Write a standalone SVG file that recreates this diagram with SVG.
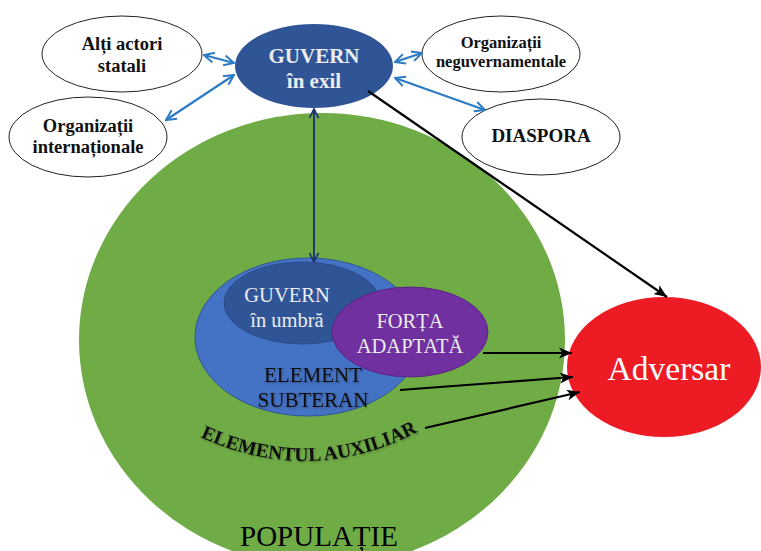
<svg xmlns="http://www.w3.org/2000/svg" width="761" height="551" viewBox="0 0 761 551">
<style>
.t{font-family:"Liberation Serif","Times New Roman",serif;text-anchor:middle}
.wb{fill:#fff;stroke:#222;stroke-width:1}
.lbl{font-weight:bold;fill:#111}
.blue{stroke:#2b7cc4;stroke-width:2.2;fill:none;marker-start:url(#bh);marker-end:url(#bh)}
.blk{stroke:#000;stroke-width:2.2;fill:none;marker-end:url(#ah)}
.lt{fill:#ececec}
</style>
<defs>
<marker id="bh" viewBox="0 0 12 12" refX="11" refY="6" markerWidth="12" markerHeight="12" markerUnits="userSpaceOnUse" orient="auto-start-reverse">
<path d="M1,1 L11,6 L1,11" fill="none" stroke="#2b7cc4" stroke-width="2"/>
</marker>
<marker id="nh" viewBox="0 0 12 12" refX="11" refY="6" markerWidth="11" markerHeight="11" markerUnits="userSpaceOnUse" orient="auto-start-reverse">
<path d="M1,1 L11,6 L1,11" fill="none" stroke="#1f3a6e" stroke-width="2"/>
</marker>
<marker id="ah" viewBox="0 0 12 12" refX="12" refY="6" markerWidth="13" markerHeight="13" markerUnits="userSpaceOnUse" orient="auto">
<path d="M0,1 L12,6 L0,11 L3,6 Z" fill="#000"/>
</marker>
<filter id="sh" x="-10%" y="-20%" width="120%" height="150%">
<feDropShadow dx="1" dy="1.2" stdDeviation="0.8" flood-color="#000" flood-opacity="0.3"/>
</filter>
<path id="arc" d="M188,431 Q311,494 430,425"/>
</defs>

<g id="populatie">
<ellipse cx="322" cy="340" rx="243" ry="227" fill="#6fac46"/>
<text class="t" x="319" y="546" font-size="29" fill="#000">POPULAȚIE</text>
</g>

<g id="element-subteran">
<ellipse cx="308" cy="337" rx="113" ry="79" fill="#4472c4" stroke="#2f5597" stroke-width="1"/>
<text class="t" x="313" y="382" font-size="21" fill="#111" filter="url(#sh)">ELEMENT</text>
<text class="t" x="313" y="407" font-size="21" fill="#111" filter="url(#sh)">SUBTERAN</text>
</g>

<g id="guvern-umbra">
<ellipse cx="302" cy="303" rx="78" ry="41" fill="#2f5597" stroke="#2a4c8a" stroke-width="1"/>
<text class="t lt" x="287" y="302" font-size="20.5">GUVERN</text>
<text class="t lt" x="287" y="327" font-size="20.5">în umbră</text>
</g>

<g id="forta-adaptata">
<ellipse cx="410" cy="332" rx="78" ry="45" fill="#7030a0" stroke="#5a2484" stroke-width="1"/>
<text class="t lt" x="410" y="328" font-size="20.5">FORȚA</text>
<text class="t lt" x="410" y="353" font-size="20.5">ADAPTATĂ</text>
</g>

<g id="elementul-auxiliar">
<text class="t" font-size="19.5" font-weight="bold" fill="#111" filter="url(#sh)"><textPath href="#arc" startOffset="50%">ELEMENTUL AUXILIAR</textPath></text>
</g>

<g id="guvern-exil">
<ellipse cx="314" cy="66" rx="79" ry="42" fill="#2f5597"/>
<text class="t lt" x="314" y="63" font-size="21" font-weight="bold">GUVERN</text>
<text class="t lt" x="314" y="88" font-size="21" font-weight="bold">în exil</text>
</g>

<g id="alti-actori">
<ellipse class="wb" cx="122" cy="54" rx="80" ry="38"/>
<text class="t lbl" x="122" y="50" font-size="18.5">Alți actori</text>
<text class="t lbl" x="122" y="72" font-size="18.5">statali</text>
</g>

<g id="org-internationale">
<ellipse class="wb" cx="88" cy="137" rx="79" ry="40"/>
<text class="t lbl" x="88" y="132" font-size="18.5">Organizații</text>
<text class="t lbl" x="88" y="153" font-size="18.5">internaționale</text>
</g>

<g id="ong">
<ellipse class="wb" cx="501" cy="54" rx="79" ry="38"/>
<text class="t lbl" x="501" y="48" font-size="16.5">Organizații</text>
<text class="t lbl" x="501" y="67" font-size="16.5">neguvernamentale</text>
</g>

<g id="diaspora">
<ellipse class="wb" cx="541" cy="137" rx="79" ry="38"/>
<text class="t lbl" x="541" y="142" font-size="19">DIASPORA</text>
</g>

<g id="adversar">
<ellipse cx="664" cy="367" rx="97" ry="70" fill="#ed1c24"/>
<text class="t" x="669" y="380" font-size="33.5" fill="#fff">Adversar</text>
</g>

<g id="connectors">
<line class="blue" x1="204" y1="55" x2="234" y2="63"/>
<line class="blue" x1="166" y1="120" x2="234" y2="75"/>
<line class="blue" x1="395" y1="62" x2="422" y2="53"/>
<line class="blue" x1="395" y1="78" x2="485" y2="110"/>
<line x1="314" y1="109" x2="314" y2="262" stroke="#1f3a6e" stroke-width="2" marker-start="url(#nh)" marker-end="url(#nh)"/>
<line class="blk" x1="368" y1="91" x2="667" y2="297"/>
<line class="blk" x1="483" y1="353" x2="572" y2="353"/>
<line class="blk" x1="400" y1="390" x2="573" y2="377"/>
<line class="blk" x1="425" y1="428" x2="580" y2="392"/>
</g>
</svg>
